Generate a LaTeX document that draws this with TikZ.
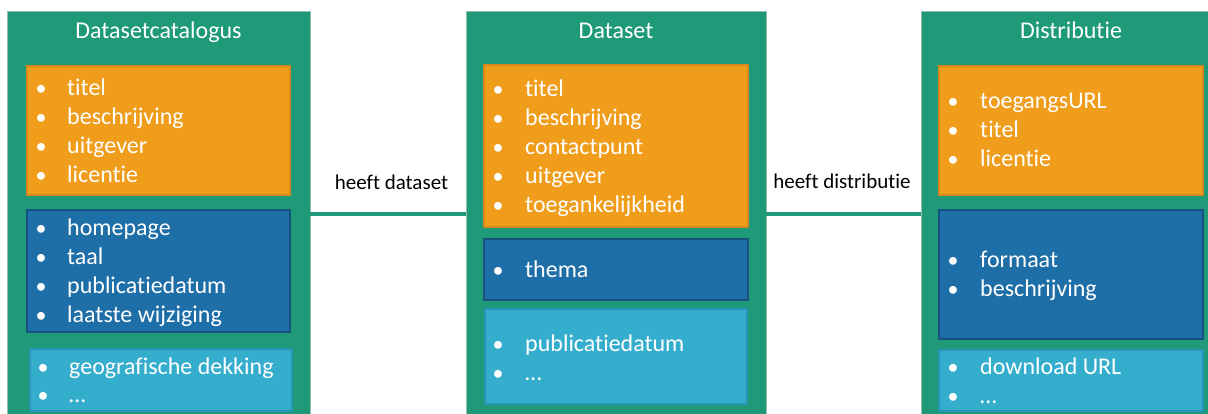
\documentclass[tikz,border=0pt]{standalone}
\usepackage{fontspec}
\setmainfont{Carlito}[Ligatures={NoCommon}]
\usetikzlibrary{fit}
\definecolor{pgreen}{RGB}{30,154,121}
\definecolor{pgreenedge}{RGB}{150,190,175}
\definecolor{porange}{RGB}{240,157,28}
\definecolor{porangeedge}{RGB}{214,136,28}
\definecolor{pdblue}{RGB}{30,110,168}
\definecolor{pdblueedge}{RGB}{22,82,128}
\definecolor{plblue}{RGB}{53,174,205}
\definecolor{plblueedge}{RGB}{40,148,182}
\tikzset{
  panel/.style={fill=pgreen, draw=pgreenedge, line width=0.8pt, inner sep=0pt},
  obox/.style={fill=porange, draw=porangeedge, line width=1.2pt, inner sep=0pt},
  dbox/.style={fill=pdblue, draw=pdblueedge, line width=1.2pt, inner sep=0pt},
  lbox/.style={fill=plblue, draw=plblueedge, line width=1.2pt, inner sep=0pt},
  ptitle/.style={anchor=base, inner sep=0pt, text=white, font=\fontsize{24}{29}\selectfont},
  bul/.style={anchor=base, inner sep=0pt, text=white, font=\fontsize{22}{29}\selectfont},
  itm/.style={anchor=base west, inner sep=0pt, text=white, font=\fontsize{24}{29}\selectfont},
  conn/.style={draw=pgreen, line width=4pt},
  lab/.style={anchor=base, inner sep=0pt, text=black, font=\fontsize{21}{25}\selectfont},
}
\newcommand\itemlist[4]{%
  \foreach \yy/\txt [count=\k] in {#4} {
    \node[bul] (#1b\k) at (#2,\yy) {•};
    \node[itm] (#1t\k) at (#3,\yy) {\txt};
  }}
\begin{document}
\begin{tikzpicture}[x=1pt,y=-1pt]
\useasboundingbox (0,0) rectangle (1208,414);
\clip (0,0) rectangle (1208,414);
\fill[white] (0,0) rectangle (1208,414);
% panels
\node[panel, fit={(7,11) (310,417)}] (Lp) {};
\node[panel, fit={(466,11) (766,417)}] (Mp) {};
\node[panel, fit={(921,11) (1221,417)}] (Rp) {};
% titles
\node[ptitle] (Lt) at (158.5,39) {Datasetcatalogus};
\node[ptitle] (Mt) at (616,39) {Dataset};
\node[ptitle] (Rt) at (1071,39) {Distributie};
% left boxes
\node[obox, fit={(27,66) (290,195)}] (Lo) {};
\node[dbox, fit={(27,210) (290,332)}] (Ld) {};
\node[lbox, fit={(30,349) (292,411)}] (Ll) {};
\itemlist{Lo}{41}{67}{96/titel,125/beschrijving,154/uitgever,183/licentie}
\itemlist{Ld}{41}{67}{236/homepage,265/taal,294/publicatiedatum,323/laatste wijziging}
\itemlist{Ll}{43}{69}{374/geografische dekking,402/…}
% middle boxes
\node[obox, fit={(484,65) (748,227)}] (Mo) {};
\node[dbox, fit={(484,239) (748,300)}] (Md) {};
\node[lbox, fit={(485,309) (747,404)}] (Ml) {};
\itemlist{Mo}{498}{525}{97/titel,126/beschrijving,155/contactpunt,184/uitgever,213/toegankelijkheid}
\itemlist{Md}{498}{525}{278/thema}
\itemlist{Ml}{498}{525}{351/publicatiedatum,380/…}
% right boxes
\node[obox, fit={(939,66) (1203,195)}] (Ro) {};
\node[dbox, fit={(939,210) (1203,339)}] (Rd) {};
\node[lbox, fit={(939,350) (1203,411)}] (Rl) {};
\itemlist{Ro}{953}{980}{109/toegangsURL,138/titel,167/licentie}
\itemlist{Rd}{953}{980}{268/formaat,297/beschrijving}
\itemlist{Rl}{953}{980}{374/download URL,403/…}
% connectors
\draw[conn] (Lp.east) -- (Mp.west);
\draw[conn] (Mp.east) -- (Rp.west);
\node[lab] (c1) at (391.5,190) {heeft dataset};
\node[lab] (c2) at (842,189) {heeft distributie};
\end{tikzpicture}
\end{document}
